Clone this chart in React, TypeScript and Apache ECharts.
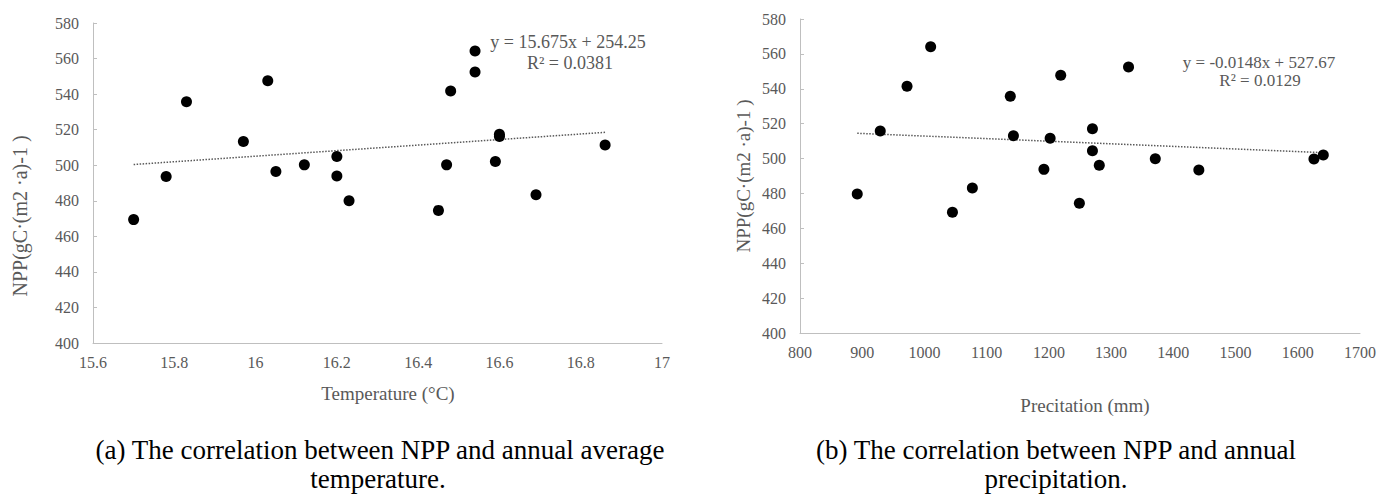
import React, { useEffect, useRef } from "react";
import * as echarts from "echarts";

// Panel (a): temperature vs NPP
const tempX = [15.70, 15.78, 15.83, 15.97, 16.03, 16.05, 16.12, 16.20, 16.20, 16.23, 16.54, 16.54, 16.48, 16.45, 16.47, 16.59, 16.60, 16.60, 16.69, 16.86];
const tempNPP = [469.4, 493.7, 535.7, 513.3, 547.5, 496.5, 500.2, 504.9, 494.0, 480.0, 564.3, 552.5, 541.7, 474.6, 500.2, 502.1, 517.4, 516.1, 483.4, 511.4];
const tempTrendX = [15.70, 16.86];
const tempTrendY = [500.4, 518.5];

// Panel (b): precipitation vs NPP
const precX = [892, 929, 972, 1010, 1045, 1077, 1138, 1143, 1192, 1202, 1219, 1328, 1270, 1270, 1281, 1249, 1371, 1441, 1626, 1641];
const precNPP = [479.7, 515.8, 541.4, 564.1, 469.2, 483.1, 535.7, 513.1, 493.8, 511.6, 547.7, 552.5, 517.1, 504.5, 496.1, 474.4, 499.9, 493.4, 499.8, 502.0];
const precTrendX = [892, 1641];
const precTrendY = [514.5, 503.4];

const yTicks = { min: 400, max: 580, interval: 20 };
const tempTicks = { min: 15.6, max: 17, interval: 0.2 };
const precTicks = { min: 800, max: 1700, interval: 100 };

const yName = "NPP(gC·(m2 ·a)-1 )";
const eqA = ["y = 15.675x + 254.25", "R² = 0.0381"];
const eqB = ["y = -0.0148x + 527.67", "R² = 0.0129"];
const captionA = ["(a) The correlation between NPP and annual average", "temperature."];
const captionB = ["(b) The correlation between NPP and annual", "precipitation."];

const pair = (xs: number[], ys: number[]) => xs.map((x, i) => [x, ys[i]]);

export default function App() {
  const ref = useRef<HTMLDivElement>(null);
  useEffect(() => {
    document.body.style.margin = "0";
    const chart = echarts.init(ref.current!, null, { renderer: "svg" });
    const labelFont = "Liberation Serif";
    const plain = (v: number) => String(Math.round(v * 100) / 100);
    const axisCommon = {
      axisLine: { show: true, lineStyle: { color: "#bfbfbf", width: 1 } },
      splitLine: { show: false },
      axisLabel: { color: "#595959", fontSize: 16, fontFamily: labelFont, formatter: plain },
    };
    const t = (text: string, x: number, y: number, size: number, extra: any = {}) => ({
      type: "text",
      x,
      y,
      rotation: extra.rotation || 0,
      style: {
        text,
        fontSize: size,
        fontFamily: extra.fontFamily || labelFont,
        fill: extra.fill || "#595959",
        align: "center",
        verticalAlign: "middle",
      },
    });
    const cap = { fontFamily: "Liberation Serif", fill: "#000000" };
    chart.setOption({
      animation: false,
      backgroundColor: "#ffffff",
      grid: [
        { left: 93, top: 23, width: 569, height: 320 },
        { left: 800, top: 19, width: 560, height: 314 },
      ],
      xAxis: [
        {
          type: "value", gridIndex: 0, ...tempTicks, ...axisCommon,
          axisTick: { show: false },
          axisLabel: { ...axisCommon.axisLabel, margin: 11 },
        },
        {
          type: "value", gridIndex: 1, ...precTicks, ...axisCommon,
          axisTick: { show: false },
          axisLabel: { ...axisCommon.axisLabel, margin: 11 },
        },
      ],
      yAxis: [
        {
          type: "value", gridIndex: 0, ...yTicks, ...axisCommon,
          axisTick: { show: true, inside: true, length: 4, lineStyle: { color: "#bfbfbf" } },
          axisLabel: { ...axisCommon.axisLabel, margin: 14 },
        },
        {
          type: "value", gridIndex: 1, ...yTicks, ...axisCommon,
          axisTick: { show: true, inside: true, length: 4, lineStyle: { color: "#bfbfbf" } },
          axisLabel: { ...axisCommon.axisLabel, margin: 14 },
        },
      ],
      series: [
        {
          type: "line", xAxisIndex: 0, yAxisIndex: 0, data: pair(tempTrendX, tempTrendY),
          symbol: "none", lineStyle: { color: "#595959", width: 1.5, type: [1.5, 1.5] }, z: 1,
        },
        {
          type: "scatter", xAxisIndex: 0, yAxisIndex: 0, data: pair(tempX, tempNPP),
          symbol: "circle", symbolSize: 11, itemStyle: { color: "#000000", opacity: 1 }, z: 2,
        },
        {
          type: "line", xAxisIndex: 1, yAxisIndex: 1, data: pair(precTrendX, precTrendY),
          symbol: "none", lineStyle: { color: "#595959", width: 1.5, type: [1.5, 1.5] }, z: 1,
        },
        {
          type: "scatter", xAxisIndex: 1, yAxisIndex: 1, data: pair(precX, precNPP),
          symbol: "circle", symbolSize: 11, itemStyle: { color: "#000000", opacity: 1 }, z: 2,
        },
      ],
      graphic: [
        t(yName, 20, 216, 20, { rotation: Math.PI / 2 }),
        t(yName, 743, 176, 19, { rotation: Math.PI / 2 }),
        t("Temperature (°C)", 388, 393, 19),
        t("Precitation (mm)", 1085, 405, 19),
        t(eqA[0], 568, 42, 18),
        t(eqA[1], 570, 63, 18),
        t(eqB[0], 1259, 62, 17),
        t(eqB[1], 1260, 80, 17),
        t(captionA[0], 380, 450, 27, cap),
        t(captionA[1], 378, 479, 27, cap),
        t(captionB[0], 1056, 450, 27, cap),
        t(captionB[1], 1056, 479, 27, cap),
      ],
    });
    return () => chart.dispose();
  }, []);
  return <div ref={ref} style={{ width: 1390, height: 497 }} />;
}
